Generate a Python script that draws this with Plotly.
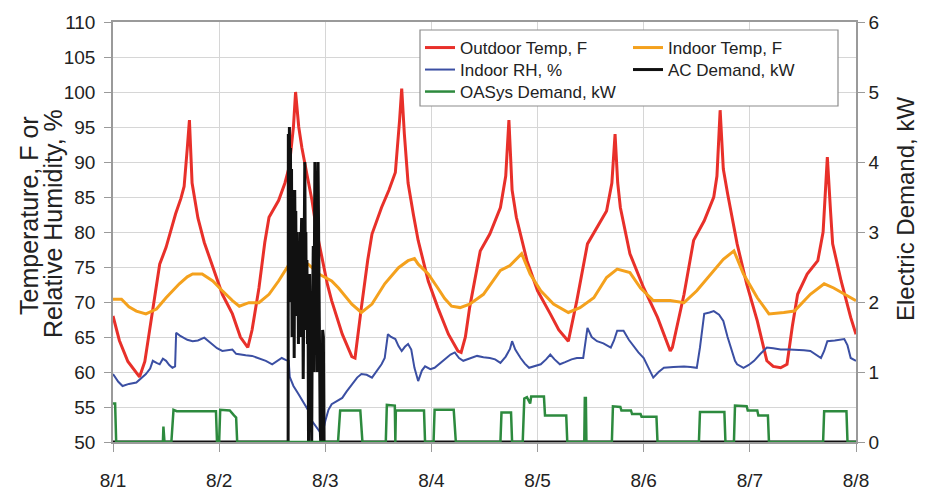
import plotly.graph_objects as go

# ---------------- data (time in days since 8/1 00:00) ----------------
day_ticks = [0, 1, 2, 3, 4, 5, 6, 7]
day_labels = ["8/1", "8/2", "8/3", "8/4", "8/5", "8/6", "8/7", "8/8"]

outdoor_t = [0.00, 0.06, 0.14, 0.25, 0.30, 0.34, 0.40, 0.44, 0.50, 0.55, 0.59, 0.64, 0.67, 0.70, 0.72,
             0.745, 0.80, 0.86, 0.94, 1.03, 1.125, 1.20, 1.27, 1.31, 1.375, 1.43, 1.47, 1.56, 1.62, 1.66,
             1.70, 1.72, 1.75, 1.78, 1.83, 1.875, 1.92, 1.97, 2.02, 2.06, 2.16, 2.25, 2.28, 2.34, 2.40,
             2.44, 2.53, 2.60, 2.66, 2.70, 2.72, 2.745, 2.78, 2.83, 2.875, 2.97, 3.06, 3.16, 3.25, 3.28,
             3.32, 3.36, 3.46, 3.55, 3.65, 3.70, 3.73, 3.76, 3.80, 3.90, 4.00, 4.12, 4.20, 4.29, 4.32,
             4.37, 4.47, 4.56, 4.65, 4.70, 4.73, 4.755, 4.78, 4.87, 5.00, 5.13, 5.25, 5.27, 5.32, 5.38,
             5.47, 5.57, 5.66, 5.69, 5.72, 5.75, 5.79, 5.88, 5.97, 6.07, 6.16, 6.22, 6.29, 6.35, 6.40,
             6.45, 6.54, 6.64, 6.69, 6.73, 6.76, 6.78, 6.86, 6.95, 7.00]
outdoor_temp = [68.0, 64.5, 61.5, 59.3, 61.5, 65.4, 71.5, 75.4, 77.8, 80.5, 82.6, 84.8, 86.5, 92.0, 96.0,
                87.0, 82.0, 78.5, 75.0, 71.1, 68.3, 65.0, 63.5, 66.0, 72.0, 78.5, 82.1, 84.5, 87.0, 89.3,
                95.0, 100.0, 95.0, 92.0, 88.0, 84.5, 80.0, 76.0, 72.5, 70.2, 65.4, 62.2, 62.0, 69.2, 76.0,
                79.7, 83.5, 86.0, 88.5, 96.0, 100.5, 94.0, 87.0, 82.5, 78.8, 73.0, 69.2, 65.4, 63.0, 62.8,
                65.0, 69.2, 77.3, 79.7, 83.5, 88.0, 96.0, 86.0, 82.1, 75.9, 71.6, 68.3, 66.0, 64.4, 66.5,
                70.2, 78.3, 80.7, 83.0, 87.0, 94.0, 87.0, 83.5, 76.9, 72.0, 67.8, 63.0, 63.5, 67.0, 71.1,
                78.8, 81.6, 85.0, 88.0, 97.4, 89.0, 85.5, 78.3, 72.6, 67.3, 61.6, 60.8, 60.6, 61.1, 66.5,
                71.1, 74.0, 75.9, 80.0, 90.7, 83.0, 78.3, 73.0, 67.8, 65.4]

indoor_t = [0.00, 0.08, 0.15, 0.22, 0.31, 0.41, 0.50, 0.625, 0.70, 0.75, 0.84, 0.94, 1.03, 1.125, 1.19,
            1.28, 1.375, 1.47, 1.56, 1.66, 1.72, 1.78, 1.84, 1.90, 1.94, 2.00, 2.06, 2.125, 2.19, 2.25,
            2.34, 2.44, 2.56, 2.69, 2.78, 2.84, 2.875, 2.97, 3.06, 3.125, 3.19, 3.27, 3.36, 3.49, 3.65,
            3.74, 3.85, 3.93, 4.03, 4.15, 4.29, 4.40, 4.53, 4.65, 4.75, 4.87, 4.97, 5.09, 5.25, 5.38,
            5.50, 5.66, 5.75, 5.85, 5.94, 6.07, 6.18, 6.32, 6.42, 6.57, 6.70, 6.79, 6.89, 7.00]
indoor_temp = [70.4, 70.4, 69.3, 68.7, 68.3, 69.0, 70.6, 72.6, 73.6, 74.0, 74.0, 73.0, 71.6, 70.2, 69.4,
               69.9, 69.9, 71.1, 73.0, 75.4, 75.9, 75.3, 75.4, 74.5, 74.0, 73.5, 73.0, 72.0, 70.8, 69.7,
               68.5, 69.7, 72.6, 74.9, 75.9, 76.2, 75.4, 74.0, 72.0, 70.5, 69.4, 69.2, 69.7, 71.1, 74.5,
               75.2, 76.9, 74.0, 71.6, 69.7, 68.5, 69.2, 70.6, 73.5, 74.7, 74.2, 72.0, 70.2, 70.2, 69.9,
               71.6, 74.5, 76.1, 77.3, 74.0, 70.6, 68.3, 68.5, 68.7, 71.1, 72.6, 72.0, 71.1, 70.2]

rh_t = [0.00, 0.05, 0.09, 0.15, 0.22, 0.28, 0.31, 0.35, 0.375, 0.41, 0.44, 0.47, 0.50, 0.53, 0.56, 0.585,
        0.595, 0.63, 0.66, 0.70, 0.75, 0.80, 0.86, 0.90, 0.94, 0.98, 1.03, 1.08, 1.125, 1.16, 1.19, 1.25,
        1.31, 1.38, 1.44, 1.50, 1.55, 1.59, 1.63, 1.655, 1.665, 1.70, 1.75, 1.78, 1.81, 1.84, 1.875, 1.91,
        1.94, 1.97, 2.00, 2.03, 2.06, 2.11, 2.16, 2.20, 2.25, 2.30, 2.34, 2.39, 2.44, 2.49, 2.53, 2.56,
        2.59, 2.62, 2.66, 2.69, 2.72, 2.75, 2.78, 2.81, 2.84, 2.875, 2.91, 2.94, 2.99, 3.03, 3.08, 3.125,
        3.18, 3.22, 3.26, 3.30, 3.36, 3.43, 3.49, 3.55, 3.60, 3.65, 3.70, 3.74, 3.76, 3.79, 3.84, 3.88,
        3.92, 3.97, 4.03, 4.08, 4.12, 4.16, 4.21, 4.26, 4.32, 4.37, 4.43, 4.47, 4.51, 4.56, 4.62, 4.69,
        4.72, 4.75, 4.81, 4.86, 4.91, 4.95, 5.00, 5.05, 5.09, 5.14, 5.19, 5.28, 5.38, 5.44, 5.50, 5.53,
        5.57, 5.62, 5.66, 5.71, 5.75, 5.79, 5.82, 5.86, 5.88, 5.94, 5.99, 6.04, 6.10, 6.16, 6.22, 6.29,
        6.37, 6.45, 6.51, 6.57, 6.62, 6.67, 6.70, 6.73, 6.80, 6.89, 6.92, 6.95, 7.00]
indoor_rh = [59.7, 58.6, 58.0, 58.3, 58.5, 59.3, 59.7, 60.5, 61.6, 61.3, 61.1, 61.9, 61.6, 61.0, 60.6, 60.8,
             65.6, 65.2, 64.9, 64.6, 64.4, 64.5, 64.9, 64.4, 64.0, 63.4, 63.0, 63.1, 63.2, 62.6, 62.5, 62.4,
             62.3, 61.9, 61.6, 61.1, 61.6, 62.0, 61.7, 61.6, 59.3, 58.0, 56.8, 56.0, 55.4, 54.5, 53.0, 52.2,
             51.5, 51.0, 53.0, 54.6, 55.4, 55.9, 56.3, 57.2, 58.2, 59.2, 59.7, 59.6, 59.2, 60.2, 61.1, 62.0,
             65.4, 65.0, 64.7, 63.7, 63.0, 63.6, 64.0, 63.2, 60.6, 58.7, 60.2, 60.8, 60.4, 60.6, 61.2, 61.8,
             62.5, 62.8, 62.0, 61.6, 61.9, 62.3, 62.1, 62.0, 61.8, 61.3, 62.2, 63.3, 64.4, 63.2, 62.0, 61.2,
             60.6, 60.8, 61.1, 61.8, 62.5, 61.8, 61.1, 61.4, 61.8, 62.0, 62.0, 66.3, 65.0, 64.4, 64.1, 63.5,
             64.5, 65.9, 65.9, 64.6, 63.5, 62.8, 62.0, 60.5, 59.2, 60.0, 60.6, 60.7, 60.8, 60.7, 60.6, 63.5,
             68.3, 68.5, 68.7, 68.2, 67.3, 65.0, 63.5, 61.6, 61.1, 60.6, 61.0, 61.6, 62.6, 63.5, 63.4, 63.2,
             63.2, 63.2, 63.1, 63.0, 62.5, 62.0, 63.0, 64.4, 64.5, 64.7, 63.8, 62.0, 61.6]

ac_t = [0.00, 1.650, 1.652, 1.657, 1.662, 1.667, 1.672, 1.677, 1.682, 1.687, 1.692, 1.697, 1.702, 1.707,
        1.712, 1.717, 1.722, 1.727, 1.732, 1.737, 1.742, 1.747, 1.752, 1.757, 1.762, 1.767, 1.772, 1.777,
        1.782, 1.787, 1.792, 1.797, 1.802, 1.807, 1.812, 1.817, 1.822, 1.827, 1.832, 1.837, 1.842, 1.847,
        1.852, 1.857, 1.862, 1.867, 1.872, 1.877, 1.882, 1.887, 1.892, 1.897, 1.902, 1.907, 1.912, 1.917,
        1.922, 1.927, 1.932, 1.937, 1.942, 1.947, 1.952, 1.957, 1.962, 1.967, 1.975, 1.982, 1.988, 7.00]
ac_kw = [0.0, 0.0, 4.4, 3.0, 4.5, 2.4, 4.2, 2.0, 3.9, 1.5, 3.6, 2.2, 3.4, 1.2,
         3.6, 2.6, 3.3, 1.8, 3.0, 2.2, 2.8, 1.4, 2.6, 2.0, 3.0, 1.5, 2.8, 3.2,
         1.8, 2.6, 0.9, 2.4, 3.6, 4.0, 2.5, 3.0, 1.6, 2.6, 1.4, 2.2, 0.0, 1.8,
         2.4, 1.2, 2.0, 0.8, 0.0, 1.6, 2.2, 2.8, 1.0, 3.2, 4.0, 3.4, 1.8, 2.5,
         1.0, 2.6, 4.0, 3.0, 1.5, 0.5, 0.2, 0.0, 1.0, 0.0, 1.6, 1.5, 0.0, 0.0]

oasys_t = [0.00, 0.02, 0.03, 0.47, 0.475, 0.485, 0.55, 0.57, 0.60, 0.97, 0.98, 1.00, 1.01, 1.10, 1.14, 1.16,
           1.17, 2.12, 2.14, 2.33, 2.35, 2.57, 2.58, 2.655, 2.66, 2.665, 2.93, 2.94, 3.02, 3.03, 3.21, 3.23,
           3.65, 3.66, 3.75, 3.76, 3.86, 3.875, 3.90, 3.93, 3.94, 4.06, 4.07, 4.27, 4.28, 4.44, 4.445, 4.455,
           4.46, 4.70, 4.71, 4.78, 4.79, 4.88, 4.89, 4.97, 4.98, 5.12, 5.13, 5.52, 5.53, 5.76, 5.77, 5.85,
           5.86, 5.97, 5.98, 6.07, 6.08, 6.17, 6.18, 6.69, 6.70, 6.91, 6.92, 7.00]
oasys_kw = [0.55, 0.55, 0.0, 0.0, 0.22, 0.0, 0.0, 0.46, 0.44, 0.44, 0.0, 0.0, 0.46, 0.45, 0.38, 0.35,
            0.0, 0.0, 0.45, 0.45, 0.0, 0.0, 0.53, 0.52, 0.0, 0.45, 0.45, 0.0, 0.0, 0.46, 0.46, 0.0,
            0.0, 0.42, 0.42, 0.0, 0.0, 0.62, 0.64, 0.55, 0.65, 0.65, 0.38, 0.38, 0.0, 0.0, 0.63, 0.63,
            0.0, 0.0, 0.51, 0.50, 0.45, 0.45, 0.40, 0.40, 0.36, 0.36, 0.0, 0.0, 0.43, 0.43, 0.0, 0.0,
            0.52, 0.51, 0.45, 0.45, 0.38, 0.38, 0.0, 0.0, 0.44, 0.44, 0.0, 0.0]

# ---------------- figure ----------------
W, H = 925, 491
ML, MR, MT, MB = 113, 69, 22, 49
PW, PH = W - ML - MR, H - MT - MB

def px_x(x):
    return (x - ML) / PW

def px_y(y):
    return 1 - (y - MT) / PH

RED, ORANGE, BLUE, BLACK, GREEN = "#e8302a", "#f4a11d", "#3b4fa3", "#111111", "#2d8a3e"

fig = go.Figure()
fig.add_trace(go.Scatter(x=outdoor_t, y=outdoor_temp, name="Outdoor Temp, F", mode="lines",
                         line=dict(color=RED, width=3), legend="legend"))
fig.add_trace(go.Scatter(x=indoor_t, y=indoor_temp, name="Indoor Temp, F", mode="lines",
                         line=dict(color=ORANGE, width=3), legend="legend2"))
fig.add_trace(go.Scatter(x=rh_t, y=indoor_rh, name="Indoor RH, %", mode="lines",
                         line=dict(color=BLUE, width=2), legend="legend3"))
fig.add_trace(go.Scatter(x=ac_t, y=ac_kw, name="AC Demand, kW", mode="lines", yaxis="y2",
                         line=dict(color=BLACK, width=3), legend="legend4"))
fig.add_trace(go.Scatter(x=oasys_t, y=oasys_kw, name="OASys Demand, kW", mode="lines", yaxis="y2",
                         line=dict(color=GREEN, width=2.5), legend="legend5"))

FONT = "Liberation Sans, Arial, sans-serif"
TXT = "#222222"
AX = "#9a9a9a"
GRID = "#d6d6d6"

leg_common = dict(bgcolor="rgba(0,0,0,0)", borderwidth=0, font=dict(family=FONT, size=17, color=TXT),
                  xanchor="left", yanchor="middle")
col1, col2 = px_x(420), px_x(628)
row1, row2, row3 = px_y(48), px_y(70), px_y(92)

fig.update_layout(
    width=W, height=H,
    margin=dict(l=ML, r=MR, t=MT, b=MB, autoexpand=False),
    paper_bgcolor="white", plot_bgcolor="white",
    font=dict(family=FONT, color=TXT),
    showlegend=True,
    legend=dict(x=col1, y=row1, **leg_common),
    legend2=dict(x=col2, y=row1, **leg_common),
    legend3=dict(x=col1, y=row2, **leg_common),
    legend4=dict(x=col2, y=row2, **leg_common),
    legend5=dict(x=col1, y=row3, **leg_common),
    xaxis=dict(range=[0, 7], tickvals=day_ticks, ticktext=day_labels, automargin=False,
               showgrid=True, gridcolor=GRID, gridwidth=1,
               showline=True, linecolor=AX, linewidth=1.5, mirror=True,
               ticks="outside", ticklen=8, tickcolor=AX, tickwidth=1.2,
               tickfont=dict(size=19, color=TXT), ticklabelstandoff=12, zeroline=False),
    yaxis=dict(range=[50, 110], dtick=5, tick0=50, automargin=False,
               showgrid=True, gridcolor=GRID, gridwidth=1,
               showline=True, linecolor=AX, linewidth=1.5,
               ticks="outside", ticklen=7, tickcolor=AX, tickwidth=1.2,
               tickfont=dict(size=19, color=TXT), ticklabelstandoff=5, zeroline=False),
    yaxis2=dict(range=[0, 6], dtick=1, tick0=0, overlaying="y", side="right", automargin=False,
                showgrid=False, showline=True, linecolor=AX, linewidth=1.5,
                ticks="outside", ticklen=7, tickcolor=AX, tickwidth=1.2,
                tickfont=dict(size=19, color=TXT), zeroline=False),
    shapes=[dict(type="rect", xref="paper", yref="paper",
                 x0=px_x(420), x1=px_x(838), y0=px_y(106), y1=px_y(30),
                 fillcolor="white", line=dict(color="#8c8c8c", width=1.2), layer="above")],
    annotations=[
        dict(text="Temperature, F or", xref="paper", yref="paper", x=px_x(29), y=px_y(216),
             textangle=-90, showarrow=False, xanchor="center", yanchor="middle",
             font=dict(family=FONT, size=25, color=TXT)),
        dict(text="Relative Humidity, %", xref="paper", yref="paper", x=px_x(53), y=px_y(224),
             textangle=-90, showarrow=False, xanchor="center", yanchor="middle",
             font=dict(family=FONT, size=25, color=TXT)),
        dict(text="Electric Demand, kW", xref="paper", yref="paper", x=px_x(905), y=px_y(209),
             textangle=-90, showarrow=False, xanchor="center", yanchor="middle",
             font=dict(family=FONT, size=24, color=TXT)),
    ],
)

fig.write_html("out.html")
